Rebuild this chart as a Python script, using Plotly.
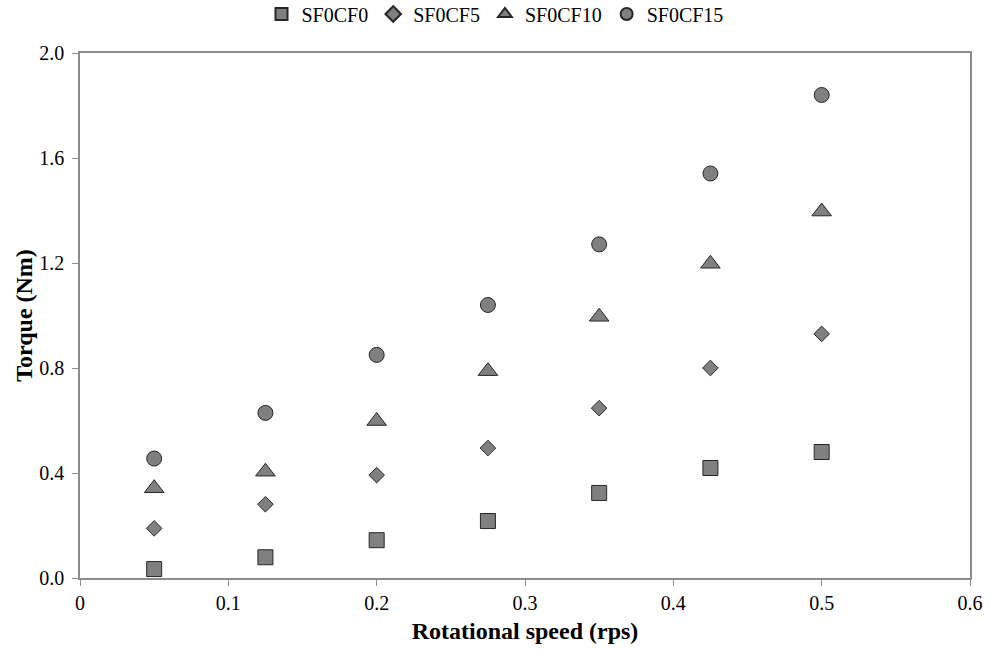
import plotly.graph_objects as go

speed = [0.05, 0.125, 0.2, 0.275, 0.35, 0.425, 0.5]
sf0cf0 = [0.034, 0.079, 0.144, 0.217, 0.324, 0.419, 0.480]
sf0cf5 = [0.189, 0.281, 0.392, 0.495, 0.647, 0.800, 0.930]
sf0cf10 = [0.342, 0.405, 0.598, 0.788, 0.995, 1.197, 1.396]
sf0cf15 = [0.455, 0.629, 0.850, 1.040, 1.271, 1.541, 1.840]

series = [
    ("SF0CF0", sf0cf0, "square", 15),
    ("SF0CF5", sf0cf5, "diamond", 12),
    ("SF0CF10", sf0cf10, "triangle-up", 17),
    ("SF0CF15", sf0cf15, "circle", 15),
]

fig = go.Figure()
for name, vals, sym, size in series:
    fig.add_trace(go.Scatter(
        x=speed, y=vals, mode="markers", name=name,
        marker=dict(symbol=sym, size=size, color="#808080",
                    line=dict(color="#262626", width=1)),
    ))

FF = "Liberation Serif"
fig.update_layout(
    width=990, height=649,
    margin=dict(l=80, r=20, t=53, b=71, autoexpand=False),
    paper_bgcolor="white", plot_bgcolor="white",
    font=dict(family=FF, size=20, color="black"),
    showlegend=True,
    legend=dict(orientation="h", xref="container", x=0.5, xanchor="center",
                yref="container", y=1 - 14 / 649, yanchor="middle",
                bgcolor="rgba(0,0,0,0)",
                font=dict(family=FF, size=20, color="black"),
                itemsizing="constant", tracegroupgap=0),
    xaxis=dict(
        range=[0, 0.6], dtick=0.1, tick0=0,
        showgrid=False, zeroline=False,
        showline=True, linecolor="#8c8c8c", linewidth=1.5, mirror=True,
        ticks="outside", ticklen=6, tickcolor="#8c8c8c",
        title=dict(text="<b>Rotational speed (rps)</b>",
                   font=dict(family=FF, size=24), standoff=9),
        tickfont=dict(family=FF, size=20),
    ),
    yaxis=dict(
        range=[0, 2.0], dtick=0.4, tick0=0, tickformat=".1f",
        showgrid=False, zeroline=False,
        showline=True, linecolor="#8c8c8c", linewidth=1.5, mirror=True,
        ticks="outside", ticklen=6, tickcolor="#8c8c8c",
        ticklabelstandoff=4,
        title=dict(text="<b>Torque (Nm)</b>",
                   font=dict(family=FF, size=24), standoff=0),
        tickfont=dict(family=FF, size=20),
    ),
)
fig.update_yaxes(title_standoff=0)
fig.layout.yaxis.title.standoff = 0

fig.write_html("out.html")
